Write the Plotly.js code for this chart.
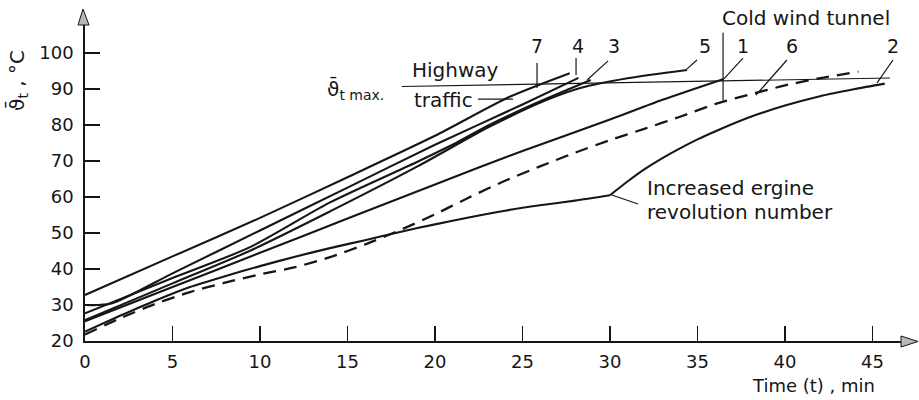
<!DOCTYPE html>
<html>
<head>
<meta charset="utf-8">
<script src="https://cdn.plot.ly/plotly-3.0.1.min.js"></script>
<style>html,body{margin:0;padding:0;background:#fff;}#chart{width:919px;height:400px;}</style>
</head>
<body>
<div id="chart"></div>
<script>
// ---- data (time in min, temperature in °C) ----
const t7 = [0, 5, 10, 15, 20, 24.3, 27.7];
const T7 = [32.8, 43.5, 54.2, 65.5, 77, 87.9, 94.4];
const t4 = [0, 1.5, 5, 10, 15, 20, 25, 28.2];
const T4 = [30, 30.4, 38.8, 50.7, 62.6, 74.5, 85.7, 93.1];
const t3 = [0, 5, 9.4, 14, 19, 21, 23.1, 25.5, 28.9];
const T3 = [27.7, 37.5, 46, 58.5, 69.8, 74.5, 80, 85.5, 92.5];
const t5 = [0, 5, 9.4, 14, 19, 23.1, 26.4, 28.3, 31, 34.4];
const T5 = [25.8, 36, 45, 56, 68.5, 79.5, 87, 90.3, 93, 95.3];
const t1 = [0, 5, 10, 15, 20, 25, 30, 33, 36.5];
const T1 = [25.5, 35, 44.5, 54, 63.5, 72.8, 81.5, 87, 92.8];
const t2a = [0, 2, 4, 6, 8, 10, 12, 14, 16, 18, 20, 22, 24, 26, 28, 30];
const T2a = [22.6, 27, 31.2, 35, 38, 40.8, 43.4, 45.8, 48, 50.3, 52.4, 54.4, 56.2, 57.7, 59, 60.5];
const t2b = [30, 31, 32, 33, 34, 35, 36, 38, 40, 42, 44, 45.7];
const T2b = [60.5, 64.3, 67.8, 70.8, 73.5, 76, 78.2, 82.2, 85.4, 88, 90, 91.5];
const t6 = [0, 2, 4, 6, 8, 10, 12, 14, 16, 18, 20, 22, 24, 26, 28, 30, 32, 34, 36, 38, 40, 42, 44.2];
const T6 = [21.8, 26.3, 30.3, 33.6, 36.2, 38.5, 40.5, 43.3, 46.8, 50.8, 55.2, 60, 64.5, 68.5, 72.3, 75.8, 79, 82.3, 85.8, 88.5, 91, 93, 94.8];
const tMax = [18.1, 46];
const TMax = [90.7, 93.05];
const xTicks = [0, 5, 10, 15, 20, 25, 30, 35, 40, 45];
const yTicks = [20, 30, 40, 50, 60, 70, 80, 90, 100];

// ---- layout geometry ----
const ML = 85, MR = 14, MT = 22, MB = 59, WID = 919, HEI = 400;
const PW = WID - ML - MR, PH = HEI - MT - MB;
const px = v => (v - ML) / PW;          // pixel -> paper x
const py = v => (HEI - MB - v) / PH;    // pixel -> paper y

const FONT = 'DejaVu Sans';
const INK = '#161616';
const solid = {color: INK, width: 2.1, shape: 'spline', smoothing: 0.7};

function tr(x, y, line) {
  return {x: x, y: y, type: 'scatter', mode: 'lines', line: line, hoverinfo: 'skip', showlegend: false};
}

const data = [
  tr(t7, T7, solid),
  tr(t4, T4, solid),
  tr(t3, T3, solid),
  tr(t5, T5, solid),
  tr(t1, T1, solid),
  tr(t2a, T2a, solid),
  tr(t2b, T2b, solid),
  tr(t6, T6, {color: INK, width: 2.3, dash: '13px,8px', shape: 'spline', smoothing: 0.7}),
  tr(tMax, TMax, {color: INK, width: 1.2})
];

function seg(x0, y0, x1, y1, w) {
  return {type: 'line', xref: 'x', yref: 'y', x0: x0, y0: y0, x1: x1, y1: y1,
          line: {color: INK, width: w || 1.2}};
}
function lbl(x, y, text, opts) {
  return Object.assign({x: x, y: y, xref: 'x', yref: 'y', text: text, showarrow: false,
    font: {family: FONT, size: 19, color: INK}, xanchor: 'center', yanchor: 'middle'}, opts || {});
}

const shapes = [
  seg(25.83, 97.2, 25.83, 90.3),       // 7
  seg(28.06, 98.6, 28.06, 93.9),       // 4
  seg(29.89, 97.8, 28.69, 92.5),       // 3
  seg(34.97, 98.06, 34.34, 95.3),      // 5
  seg(37.6, 98.6, 36.51, 92.8),        // 1
  seg(40.11, 98.06, 38.34, 88.3),      // 6
  seg(46.17, 98.06, 45.26, 91.7),      // 2
  seg(22.46, 87.2, 24.46, 87.2),       // traffic leader
  seg(36.46, 105.6, 36.46, 86.9),      // cold wind tunnel marker
  seg(30.11, 60.56, 31.6, 58.06),      // increased engine leader
  // axis arrowheads
  {type: 'path', xref: 'paper', yref: 'paper', layer: 'above',
   path: `M ${px(83)} ${py(9)} L ${px(78)} ${py(25)} L ${px(89)} ${py(25)} Z`,
   fillcolor: '#b8b8b8', line: {color: INK, width: 1}},
  {type: 'path', xref: 'paper', yref: 'paper', layer: 'above',
   path: `M ${px(918)} ${py(341.5)} L ${px(901)} ${py(336)} L ${px(901)} ${py(347)} Z`,
   fillcolor: '#b8b8b8', line: {color: INK, width: 1}}
];

const annotations = [
  lbl(25.83, 101.9, '7'),
  lbl(28.17, 101.9, '4'),
  lbl(30.23, 101.9, '3'),
  lbl(35.43, 101.9, '5'),
  lbl(37.6, 101.9, '1'),
  lbl(40.4, 101.9, '6'),
  lbl(46.17, 101.9, '2'),
  lbl(18.57, 95.3, 'Highway', {xanchor: 'left', font: {family: FONT, size: 20, color: INK}}),
  lbl(18.69, 86.9, 'traffic', {xanchor: 'left', font: {family: FONT, size: 20, color: INK}}),
  lbl(13.71, 90.0, 'ϑ\u0304<sub>t max.</sub>', {xanchor: 'left', font: {family: FONT, size: 20, color: INK}}),
  lbl(32.0, 62.5, 'Increased ergine', {xanchor: 'left', font: {family: FONT, size: 20, color: INK}}),
  lbl(32.0, 55.8, 'revolution number', {xanchor: 'left', font: {family: FONT, size: 20, color: INK}}),
  {xref: 'paper', yref: 'paper', x: px(720), y: py(18), text: 'Cold wind tunnel', showarrow: false,
   xanchor: 'left', yanchor: 'middle', font: {family: FONT, size: 20, color: INK}},
  {xref: 'paper', yref: 'paper', x: px(750), y: py(385), text: 'Time (t) , min', showarrow: false,
   xanchor: 'left', yanchor: 'middle', font: {family: FONT, size: 18, color: INK}},
  {xref: 'paper', yref: 'paper', x: px(18), y: py(81), text: 'ϑ\u0304<sub>t</sub> , °C', showarrow: false,
   textangle: -90, xanchor: 'center', yanchor: 'middle', font: {family: FONT, size: 20, color: INK}}
];

const layout = {
  width: WID, height: HEI,
  margin: {l: ML, r: MR, t: MT, b: MB, pad: 0},
  paper_bgcolor: '#fff', plot_bgcolor: '#fff',
  showlegend: false,
  xaxis: {
    range: [0, PW / 17.5], showgrid: false, zeroline: false,
    showline: true, linecolor: INK, linewidth: 1.8,
    ticks: 'inside', ticklen: 15, tickwidth: 1.4, tickcolor: INK,
    tickmode: 'array', tickvals: xTicks, ticktext: xTicks.map(String),
    ticklabelstandoff: 4,
    tickfont: {family: FONT, size: 18, color: INK}, fixedrange: true
  },
  yaxis: {
    range: [20, 20 + PH / 3.6], showgrid: false, zeroline: false,
    showline: true, linecolor: INK, linewidth: 1.8,
    ticks: 'inside', ticklen: 15, tickwidth: 1.4, tickcolor: INK,
    tickmode: 'array', tickvals: yTicks, ticktext: yTicks.map(String),
    ticklabelstandoff: 6,
    tickfont: {family: FONT, size: 18, color: INK}, fixedrange: true
  },
  shapes: shapes,
  annotations: annotations
};

Plotly.newPlot('chart', data, layout, {staticPlot: true, displayModeBar: false});
</script>
</body>
</html>
